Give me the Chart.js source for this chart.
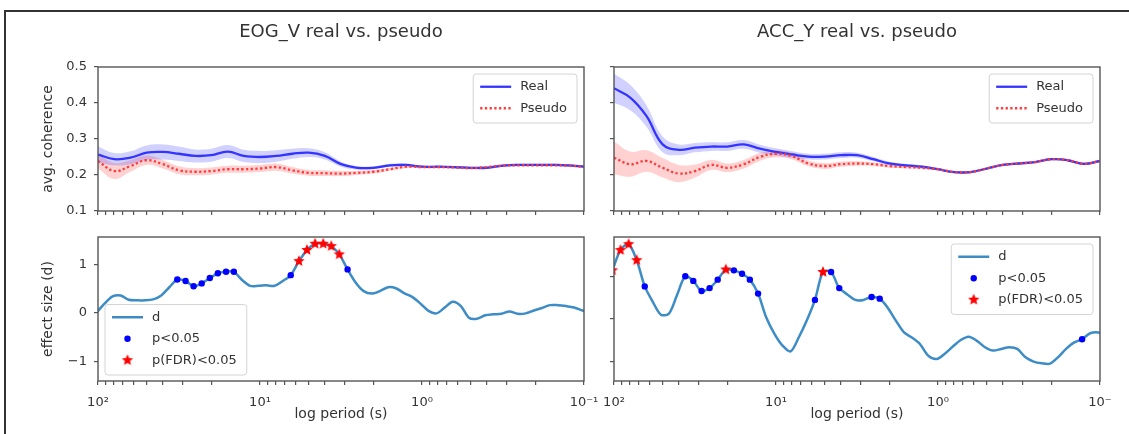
<!DOCTYPE html>
<html>
<head>
<meta charset="utf-8">
<script src="https://cdn.jsdelivr.net/npm/chart.js@4.4.0/dist/chart.umd.min.js"></script>
<style>
  body { margin: 0; background: #fff; width: 1129px; height: 434px; overflow: hidden; position: relative; }
  .frame { position: absolute; left: 4px; top: 10px; right: -4px; bottom: -4px; border-top: 2px solid #333; border-left: 2px solid #333; }
  canvas { position: absolute; }
</style>
</head>
<body>
<div class="frame"></div>
<canvas id="tl" width="600" height="225" style="left:0;top:0"></canvas>
<canvas id="tr" width="529" height="225" style="left:600px;top:0"></canvas>
<canvas id="bl" width="600" height="209" style="left:0;top:225px"></canvas>
<canvas id="br" width="529" height="209" style="left:600px;top:225px"></canvas>
<script>
// periods (s) for the coherence curves
var topPeriods = [100, 79.4, 63.1, 50.1, 39.8, 31.6, 25.1, 20.0, 15.8, 12.6, 10, 7.94, 6.31, 5.01, 3.98, 3.16,
  2.51, 2.00, 1.58, 1.26, 1, 0.794, 0.631, 0.501, 0.398, 0.316, 0.251, 0.200, 0.158, 0.126, 0.1];

var eogReal = [0.257, 0.244, 0.248, 0.262, 0.264, 0.259, 0.253, 0.255, 0.265, 0.253, 0.250, 0.253, 0.259, 0.262, 0.253, 0.230,
  0.220, 0.220, 0.227, 0.228, 0.223, 0.223, 0.222, 0.220, 0.220, 0.226, 0.228, 0.228, 0.228, 0.227, 0.223];
var eogRealSd = [0.022, 0.017, 0.018, 0.020, 0.021, 0.020, 0.018, 0.018, 0.018, 0.017, 0.017, 0.016, 0.014, 0.012, 0.010, 0.007,
  0.005, 0.004, 0.004, 0.004, 0.003, 0.003, 0.003, 0.003, 0.003, 0.003, 0.003, 0.003, 0.003, 0.003, 0.003];
var eogPseudo = [0.239, 0.211, 0.225, 0.241, 0.230, 0.213, 0.209, 0.211, 0.216, 0.216, 0.218, 0.222, 0.213, 0.206, 0.205, 0.204,
  0.206, 0.209, 0.216, 0.223, 0.222, 0.222, 0.221, 0.219, 0.222, 0.226, 0.227, 0.227, 0.227, 0.226, 0.223];
var eogPseudoSd = [0.020, 0.022, 0.016, 0.013, 0.012, 0.011, 0.010, 0.010, 0.010, 0.010, 0.010, 0.010, 0.009, 0.008, 0.008, 0.007,
  0.006, 0.005, 0.004, 0.004, 0.003, 0.003, 0.003, 0.003, 0.003, 0.003, 0.003, 0.003, 0.003, 0.003, 0.003];

var accReal = [0.441, 0.415, 0.364, 0.285, 0.270, 0.276, 0.279, 0.279, 0.285, 0.273, 0.264, 0.257, 0.251, 0.251, 0.255, 0.255,
  0.244, 0.232, 0.227, 0.223, 0.216, 0.208, 0.208, 0.218, 0.228, 0.232, 0.236, 0.244, 0.241, 0.231, 0.239];
var accRealSd = [0.040, 0.035, 0.030, 0.022, 0.015, 0.013, 0.012, 0.012, 0.012, 0.011, 0.010, 0.009, 0.008, 0.008, 0.008, 0.007,
  0.006, 0.005, 0.004, 0.004, 0.003, 0.003, 0.003, 0.003, 0.003, 0.003, 0.003, 0.003, 0.003, 0.003, 0.003];
var accPseudo = [0.248, 0.230, 0.239, 0.220, 0.204, 0.211, 0.228, 0.220, 0.230, 0.250, 0.259, 0.252, 0.232, 0.225, 0.230, 0.232,
  0.230, 0.225, 0.222, 0.220, 0.216, 0.208, 0.208, 0.218, 0.228, 0.232, 0.236, 0.244, 0.241, 0.231, 0.239];
var accPseudoSd = [0.045, 0.035, 0.030, 0.027, 0.024, 0.018, 0.014, 0.012, 0.012, 0.011, 0.010, 0.009, 0.008, 0.008, 0.007, 0.006,
  0.005, 0.005, 0.004, 0.004, 0.003, 0.003, 0.003, 0.003, 0.003, 0.003, 0.003, 0.003, 0.003, 0.003, 0.003];

// periods (s) for the effect size curves
var dPeriods = [102.3, 91.2, 81.3, 72.4, 64.6, 57.5, 51.3, 45.7, 40.7, 36.3, 32.4, 28.8, 25.7, 22.9, 20.4, 18.2,
  16.2, 14.5, 12.9, 11.5, 10.2, 9.12, 8.13, 7.24, 6.46, 5.75, 5.13, 4.57, 4.07, 3.63, 3.24, 2.88,
  2.57, 2.29, 2.04, 1.82, 1.62, 1.45, 1.29, 1.15, 1.02, 0.912, 0.813, 0.724, 0.646, 0.575, 0.513, 0.457,
  0.407, 0.363, 0.324, 0.288, 0.257, 0.229, 0.204, 0.182, 0.162, 0.145, 0.129, 0.115, 0.102, 0.0912];

var eogD = [0.00, 0.19, 0.34, 0.36, 0.27, 0.26, 0.26, 0.28, 0.36, 0.53, 0.69, 0.66, 0.55, 0.61, 0.72, 0.82,
  0.85, 0.85, 0.68, 0.56, 0.56, 0.57, 0.56, 0.66, 0.78, 1.07, 1.30, 1.43, 1.43, 1.38, 1.21, 0.90,
  0.63, 0.45, 0.40, 0.45, 0.53, 0.51, 0.41, 0.33, 0.19, 0.04, -0.01, 0.11, 0.23, 0.14, -0.10, -0.12,
  -0.05, -0.03, -0.02, 0.03, -0.02, -0.01, 0.05, 0.10, 0.16, 0.16, 0.14, 0.11, 0.05, 0.00];
var eogSig = [10, 11, 12, 13, 14, 15, 16, 17, 24, 31];
var eogFdr = [25, 26, 27, 28, 29, 30];

var accD = [1.15, 1.63, 1.77, 1.39, 0.77, 0.40, 0.10, 0.13, 0.58, 1.01, 0.90, 0.66, 0.73, 0.93, 1.17, 1.15,
  1.07, 0.93, 0.60, 0.04, -0.36, -0.63, -0.77, -0.44, -0.04, 0.45, 1.11, 1.11, 0.73, 0.58, 0.45, 0.45,
  0.52, 0.48, 0.26, -0.04, -0.32, -0.44, -0.60, -0.87, -0.95, -0.83, -0.66, -0.50, -0.42, -0.52, -0.67, -0.75,
  -0.71, -0.67, -0.71, -0.91, -1.01, -1.05, -1.06, -0.91, -0.71, -0.56, -0.48, -0.34, -0.32, -0.40];
var accSig = [4, 9, 10, 11, 12, 13, 15, 16, 17, 18, 25, 27, 28, 32, 33, 58];
var accFdr = [0, 1, 2, 3, 14, 26];

// ticks
var xTickValues = [100, 90, 80, 70, 60, 50, 40, 30, 20, 10, 9, 8, 7, 6, 5, 4, 3, 2, 1,
  0.9, 0.8, 0.7, 0.6, 0.5, 0.4, 0.3, 0.2, 0.1];
var xMajorTicks = [100, 10, 1, 0.1];
var xLabelsLeft = ['10²', '10¹', '10⁰', '10⁻¹'];
var xLabelsRight = ['10²', '10¹', '10⁰', '10⁻'];
var yTopTicks = [0.1, 0.2, 0.3, 0.4, 0.5];
var yTopLabels = ['0.1', '0.2', '0.3', '0.4', '0.5'];
var yBottomTicks = [-1, 0, 1];
var yBottomLabels = ['−1', '0', '1'];

Chart.defaults.font.family = '"DejaVu Sans", sans-serif';
Chart.defaults.font.size = 13;
Chart.defaults.color = '#333';

var AXIS = '#555';
var TXT = '#333';

function makeStar(r, color) {
  var c = document.createElement('canvas');
  c.width = c.height = 2 * r + 2;
  var g = c.getContext('2d');
  g.beginPath();
  for (var i = 0; i < 10; i++) {
    var rad = i % 2 ? r * 0.45 : r;
    var a = -Math.PI / 2 + i * Math.PI / 5;
    g.lineTo(r + 1 + rad * Math.cos(a), r + 1 + rad * Math.sin(a));
  }
  g.closePath();
  g.fillStyle = color;
  g.fill();
  return c;
}
var starImg = makeStar(6, '#ff0000');

function pts(xs, ys, sd, sign) {
  return xs.map(function (x, i) { return { x: x, y: ys[i] + (sd ? sign * sd[i] : 0) }; });
}
function pick(xs, ys, idx) {
  return idx.map(function (i) { return { x: xs[i], y: ys[i] }; });
}

var framePlugin = {
  id: 'framePlugin',
  afterDatasetsDraw: function (chart) {
    var a = chart.chartArea, ctx = chart.ctx;
    ctx.save();
    ctx.strokeStyle = AXIS;
    ctx.lineWidth = 1.4;
    ctx.strokeRect(a.left, a.top, a.right - a.left, a.bottom - a.top);
    ctx.restore();
  }
};

var boxLegend = {
  id: 'boxLegend',
  afterDatasetsDraw: function (chart, args, o) {
    if (!o.items) return;
    var ctx = chart.ctx, a = chart.chartArea, ds = chart.data.datasets;
    ctx.save();
    ctx.font = '13px "DejaVu Sans", sans-serif';
    var tw = 0;
    o.items.forEach(function (i) { tw = Math.max(tw, ctx.measureText(ds[i].label).width); });
    var rowH = 21.5;
    var w = 7 + 31 + 9 + tw + 10, h = 6 + rowH * o.items.length;
    var x = o.corner === 'ne' ? a.right - 7 - w : a.left + 7;
    var y = o.corner === 'ne' ? a.top + 7 : a.bottom - 6 - h;
    ctx.beginPath();
    ctx.roundRect(x, y, w, h, 3);
    ctx.fillStyle = 'rgba(255,255,255,0.85)';
    ctx.fill();
    ctx.strokeStyle = '#d4d4d4';
    ctx.lineWidth = 1;
    ctx.stroke();
    o.items.forEach(function (i, n) {
      var d = ds[i], cy = y + 2 + rowH / 2 + n * rowH, sx = x + 7;
      if (d.showLine === false) {
        if (typeof d.pointStyle === 'object') {
          ctx.drawImage(d.pointStyle, sx + 15.5 - d.pointStyle.width / 2, cy - d.pointStyle.height / 2);
        } else {
          ctx.beginPath();
          ctx.arc(sx + 15.5, cy, d.pointRadius, 0, 2 * Math.PI);
          ctx.fillStyle = d.pointBackgroundColor;
          ctx.fill();
        }
      } else {
        ctx.beginPath();
        ctx.setLineDash(d.borderDash || []);
        ctx.moveTo(sx, cy);
        ctx.lineTo(sx + 31, cy);
        ctx.strokeStyle = d.borderColor;
        ctx.lineWidth = d.borderWidth;
        ctx.stroke();
        ctx.setLineDash([]);
      }
      ctx.fillStyle = TXT;
      ctx.textBaseline = 'middle';
      ctx.textAlign = 'left';
      ctx.fillText(d.label, sx + 40, cy);
    });
    ctx.restore();
  }
};

function xScale(labels, showLabels, height) {
  return {
    type: 'logarithmic', reverse: true, min: 0.1, max: 100,
    afterBuildTicks: function (s) { s.ticks = xTickValues.map(function (v) { return { value: v }; }); },
    afterFit: function (s) { s.height = height; s.paddingLeft = 0; s.paddingRight = 0; },
    grid: { drawOnChartArea: false, drawTicks: true, tickLength: 4, color: AXIS, lineWidth: 1.2 },
    border: { display: false },
    ticks: {
      display: showLabels, autoSkip: false, maxRotation: 0, padding: 10, color: TXT,
      callback: function (v) { var i = xMajorTicks.indexOf(v); return i < 0 ? '' : labels[i]; }
    },
    title: { display: showLabels, text: 'log period (s)', color: TXT, font: { size: 14 }, padding: { top: 0, bottom: 11 } }
  };
}

function yScale(min, max, tickVals, labels, width, title) {
  return {
    min: min, max: max,
    afterBuildTicks: function (s) { s.ticks = tickVals.map(function (v) { return { value: v }; }); },
    afterFit: function (s) { s.width = width; s.paddingTop = 0; s.paddingBottom = 0; },
    grid: { drawOnChartArea: false, drawTicks: true, tickLength: 4, color: AXIS, lineWidth: 1.2 },
    border: { display: false },
    ticks: {
      display: !!title, padding: 7, color: TXT,
      callback: function (v) { var i = tickVals.indexOf(v); return i < 0 ? '' : labels[i]; }
    },
    title: { display: !!title, text: title || '', color: TXT, font: { size: 14 }, padding: { top: 40, bottom: 0 } }
  };
}

function coherenceChart(id, heading, real, realSd, pseudo, pseudoSd, left) {
  new Chart(document.getElementById(id), {
    type: 'line',
    data: {
      datasets: [
        { label: 'Pseudo', data: pts(topPeriods, pseudo), borderColor: '#ff3b3b', borderWidth: 2.3, borderDash: [2.3, 2.4], tension: 0.4, fill: false },
        { label: 'Real', data: pts(topPeriods, real), borderColor: '#3434ff', borderWidth: 2.3, tension: 0.4, fill: false },
        { label: 'real lo', data: pts(topPeriods, real, realSd, -1), borderWidth: 0, tension: 0.4, fill: false },
        { label: 'real hi', data: pts(topPeriods, real, realSd, 1), borderWidth: 0, tension: 0.4, fill: 2, backgroundColor: 'rgba(70,70,255,0.25)' },
        { label: 'pseudo lo', data: pts(topPeriods, pseudo, pseudoSd, -1), borderWidth: 0, tension: 0.4, fill: false },
        { label: 'pseudo hi', data: pts(topPeriods, pseudo, pseudoSd, 1), borderWidth: 0, tension: 0.4, fill: 4, backgroundColor: 'rgba(255,70,70,0.25)' }
      ]
    },
    options: {
      responsive: false, animation: false,
      elements: { point: { radius: 0 } },
      layout: { padding: { left: 0, right: left ? 16 : 29, top: 0, bottom: 0 } },
      scales: {
        x: xScale(xLabelsLeft, false, 14),
        y: yScale(0.1, 0.5, yTopTicks, yTopLabels, left ? 98 : 14, left ? 'avg. coherence' : null)
      },
      plugins: {
        legend: { display: false }, tooltip: { enabled: false },
        title: { display: true, text: heading, fullSize: false, color: TXT, font: { size: 18, weight: 'normal', lineHeight: 1.2 }, padding: { top: 21.2, bottom: 24.2 } },
        boxLegend: { items: [1, 0], corner: 'ne' }
      }
    },
    plugins: [framePlugin, boxLegend]
  });
}

function effectChart(id, d, sig, fdr, yMin, yMax, left, corner) {
  new Chart(document.getElementById(id), {
    type: 'line',
    data: {
      datasets: [
        { label: 'p(FDR)<0.05', data: pick(dPeriods, d, fdr), showLine: false, pointStyle: starImg, pointRadius: 5 },
        { label: 'p<0.05', data: pick(dPeriods, d, sig), showLine: false, pointStyle: 'circle', pointRadius: 3.2, pointBorderWidth: 0, pointBackgroundColor: '#0000ff' },
        { label: 'd', data: pts(dPeriods, d), borderColor: '#3d8cc6', borderWidth: 2.5, tension: 0.3, pointRadius: 0, fill: false }
      ]
    },
    options: {
      responsive: false, animation: false,
      layout: { padding: { left: 0, right: left ? 16 : 29, top: 12, bottom: 0 } },
      scales: {
        x: xScale(left ? xLabelsLeft : xLabelsRight, true, 53),
        y: yScale(yMin, yMax, yBottomTicks, yBottomLabels, left ? 98 : 14, left ? 'effect size (d)' : null)
      },
      plugins: {
        legend: { display: false }, tooltip: { enabled: false },
        boxLegend: { items: [2, 1, 0], corner: corner }
      }
    },
    plugins: [framePlugin, boxLegend]
  });
}

coherenceChart('tl', 'EOG_V real vs. pseudo', eogReal, eogRealSd, eogPseudo, eogPseudoSd, true);
coherenceChart('tr', 'ACC_Y real vs. pseudo', accReal, accRealSd, accPseudo, accPseudoSd, false);
effectChart('bl', eogD, eogSig, eogFdr, -1.41, 1.57, true, 'sw');
effectChart('br', accD, accSig, accFdr, -1.47, 1.94, false, 'ne');
</script>
</body>
</html>
